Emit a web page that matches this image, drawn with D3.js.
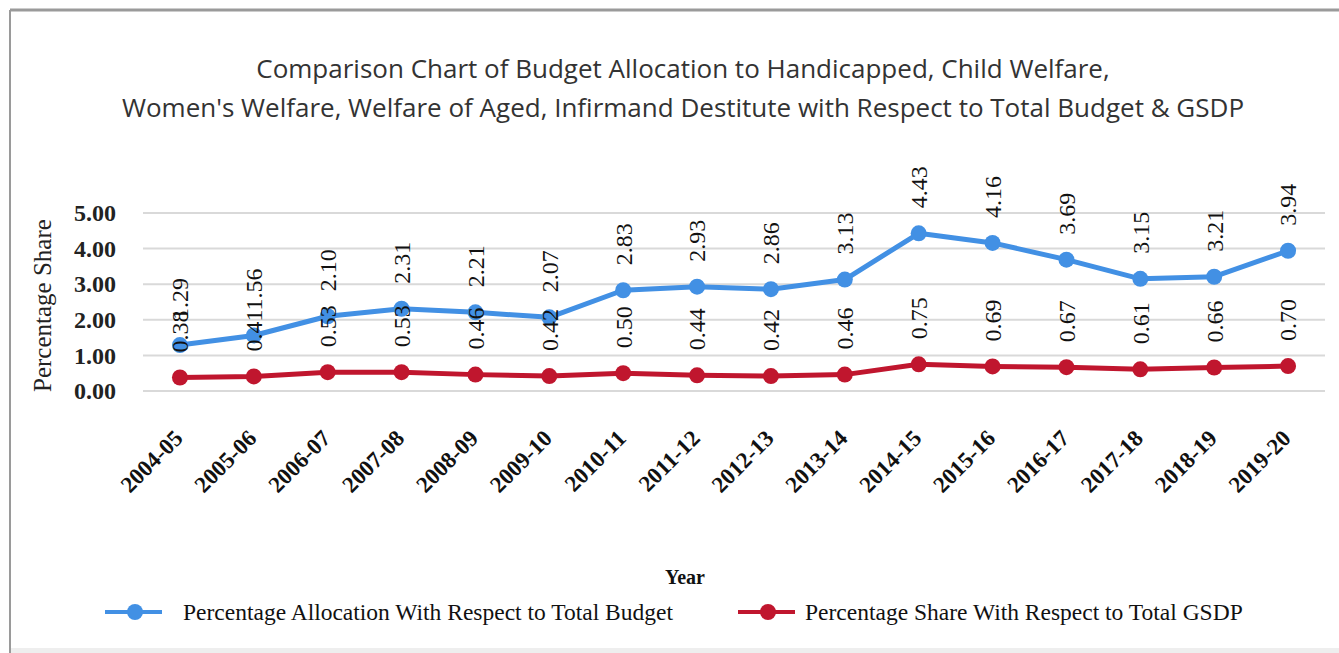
<!DOCTYPE html>
<html lang="en">
<head>
<meta charset="utf-8">
<script src="https://cdn.jsdelivr.net/npm/d3@7"></script>
<style>
  body { margin: 0; background: #fff; }
  svg { display: block; }
</style>
</head>
<body>
<script>
    // Data
    const years = ['2004-05', '2005-06', '2006-07', '2007-08', '2008-09', '2009-10', '2010-11', '2011-12',
        '2012-13', '2013-14', '2014-15', '2015-16', '2016-17', '2017-18', '2018-19', '2019-20'];
    const budgetShare = [1.29, 1.56, 2.10, 2.31, 2.21, 2.07, 2.83, 2.93, 2.86, 3.13, 4.43, 4.16, 3.69, 3.15, 3.21, 3.94];
    const gsdpShare = [0.38, 0.41, 0.53, 0.53, 0.46, 0.42, 0.50, 0.44, 0.42, 0.46, 0.75, 0.69, 0.67, 0.61, 0.66, 0.70];
    const yTicks = [0, 1, 2, 3, 4, 5];
    const seriesNames = ['Percentage Allocation With Respect to Total Budget', 'Percentage Share With Respect to Total GSDP'];
    const titleLines = ['Comparison Chart of Budget Allocation to Handicapped, Child Welfare,',
        "Women's Welfare, Welfare of Aged, Infirmand Destitute with Respect to Total Budget & GSDP"];

    const w = 1339
    const h = 653
    const margin = {left: 143, right: 14, top: 213, bottom: 262}
    const blue = '#4290e4'
    const red = '#c0162e'
    const serif = '"Liberation Serif", "Times New Roman", serif'

    const svg = d3.select('body').append('svg')
        .attr('width', w)
        .attr('height', h)

    // frame of the original screenshot
    svg.append('line').attr('x1', 10).attr('x2', w).attr('y1', 10).attr('y2', 10)
        .attr('stroke', '#9a9a9a').attr('stroke-width', 3)
    svg.append('line').attr('x1', 10).attr('x2', 10).attr('y1', 10).attr('y2', h)
        .attr('stroke', '#9a9a9a').attr('stroke-width', 2)
    svg.append('rect').attr('x', 11).attr('y', h - 5).attr('width', w).attr('height', 5).attr('fill', '#eeeeee')

    const xScale = d3.scalePoint()
        .domain(years)
        .range([margin.left, w - margin.right])
        .padding(0.5)
    const yScale = d3.scaleLinear()
        .domain([0, 5])
        .range([h - margin.bottom, margin.top])

    // title
    svg.append('g').selectAll('text')
        .data(titleLines)
        .enter().append('text')
        .attr('x', 683)
        .attr('y', (d, i) => 78 + i * 39)
        .attr('text-anchor', 'middle')
        .style('font-family', '"Open Sans", sans-serif')
        .style('font-size', '26px')
        .style('fill', '#333')
        .text(d => d)

    // gridlines
    svg.append('g').selectAll('line')
        .data(yTicks)
        .enter().append('line')
        .attr('x1', margin.left)
        .attr('x2', w - margin.right)
        .attr('y1', d => yScale(d))
        .attr('y2', d => yScale(d))
        .attr('stroke', '#d9d9d9')
        .attr('stroke-width', 2)

    // y axis
    const yAxis = svg.append('g')
        .attr('transform', `translate(${margin.left - 24},0)`)
        .call(d3.axisLeft(yScale).tickValues(yTicks).tickFormat(d3.format('.2f')).tickSize(0))
    yAxis.select('.domain').remove()
    yAxis.selectAll('text')
        .style('font-family', serif)
        .style('font-size', '24px')
        .style('font-weight', 'bold')
        .style('fill', '#222')

    svg.append('text')
        .attr('transform', `translate(51,${yScale(2.4)}) rotate(-90)`)
        .attr('text-anchor', 'middle')
        .style('font-family', serif)
        .style('font-size', '25px')
        .style('fill', '#222')
        .text('Percentage Share')

    // x axis
    const xAxis = svg.append('g')
        .attr('transform', `translate(0,${yScale(0)})`)
        .call(d3.axisBottom(xScale).tickSize(0))
    xAxis.select('.domain').remove()
    xAxis.selectAll('text')
        .attr('text-anchor', 'end')
        .attr('transform', 'translate(-2,43) rotate(-45)')
        .attr('dy', '0.35em')
        .attr('y', 0)
        .style('font-family', serif)
        .style('font-size', '23px')
        .style('font-weight', 'bold')
        .style('fill', '#111')

    svg.append('text')
        .attr('x', 685)
        .attr('y', 584)
        .attr('text-anchor', 'middle')
        .style('font-family', serif)
        .style('font-size', '20px')
        .style('font-weight', 'bold')
        .style('fill', '#111')
        .text('Year')

    // lines and markers
    const series = [
        {values: budgetShare, color: blue},
        {values: gsdpShare, color: red}
    ]
    const line = d3.line()
        .x((d, i) => xScale(years[i]))
        .y(d => yScale(d))

    const groups = svg.selectAll('g.series')
        .data(series)
        .enter().append('g')
        .attr('class', 'series')

    groups.append('path')
        .attr('d', d => line(d.values))
        .attr('fill', 'none')
        .attr('stroke', d => d.color)
        .attr('stroke-width', 5)
        .attr('stroke-linejoin', 'round')

    groups.selectAll('circle')
        .data(d => d.values.map(v => ({v: v, color: d.color})))
        .enter().append('circle')
        .attr('cx', (d, i) => xScale(years[i]))
        .attr('cy', d => yScale(d.v))
        .attr('r', 8)
        .attr('fill', d => d.color)

    // data labels, rotated
    groups.selectAll('text.lbl')
        .data(d => d.values)
        .enter().append('text')
        .attr('class', 'lbl')
        .attr('transform', (d, i) => `translate(${xScale(years[i])},${yScale(d) - 25}) rotate(-90)`)
        .attr('dy', '0.35em')
        .style('font-family', serif)
        .style('font-size', '24px')
        .style('fill', '#111')
        .text(d => d3.format('.2f')(d))

    // legend
    const legendX = [105, 738]
    const legend = svg.append('g')
        .selectAll('g')
        .data(series)
        .enter().append('g')
        .attr('transform', (d, i) => `translate(${legendX[i]},612)`)
    legend.append('line')
        .attr('x1', 0).attr('x2', 57)
        .attr('stroke', d => d.color)
        .attr('stroke-width', 4)
    legend.append('circle')
        .attr('cx', 30).attr('r', 8)
        .attr('fill', d => d.color)
    legend.append('text')
        .attr('x', (d, i) => i === 0 ? 78 : 67)
        .attr('dy', '0.35em')
        .style('font-family', serif)
        .style('font-size', '23.5px')
        .style('fill', '#111')
        .text((d, i) => seriesNames[i])
</script>
</body>
</html>
